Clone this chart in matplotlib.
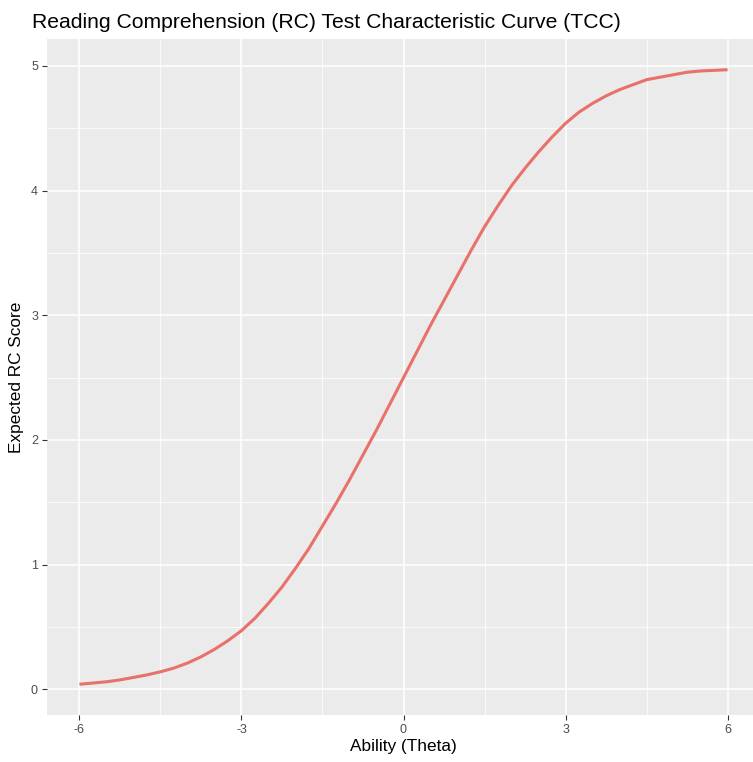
import matplotlib
matplotlib.use("Agg")
import matplotlib.pyplot as plt
from matplotlib.ticker import FixedLocator

plt.rcParams['font.family'] = ['Liberation Sans', 'DejaVu Sans']

theta = [-6.0, -5.75, -5.5, -5.25, -5.0, -4.75, -4.5, -4.25, -4.0, -3.75, -3.5, -3.25,
         -3.0, -2.75, -2.5, -2.25, -2.0, -1.75, -1.5, -1.25, -1.0, -0.75, -0.5, -0.25,
         0.0, 0.25, 0.5, 0.75, 1.0, 1.25, 1.5, 1.75, 2.0, 2.25, 2.5, 2.75,
         3.0, 3.25, 3.5, 3.75, 4.0, 4.25, 4.5, 4.75, 5.0, 5.25, 5.5, 5.75, 6.0]
expected_score = [0.04, 0.05, 0.06, 0.075, 0.095, 0.115, 0.14, 0.17, 0.21, 0.26, 0.32, 0.39,
                  0.47, 0.57, 0.69, 0.82, 0.97, 1.13, 1.31, 1.49, 1.68, 1.88, 2.08, 2.29,
                  2.50, 2.71, 2.92, 3.12, 3.32, 3.52, 3.71, 3.88, 4.04, 4.18, 4.31, 4.43,
                  4.54, 4.63, 4.70, 4.76, 4.81, 4.85, 4.89, 4.91, 4.93, 4.95, 4.96, 4.965, 4.97]
x_ticks = [-6, -3, 0, 3, 6]
y_ticks = [0, 1, 2, 3, 4, 5]

W, H = 753, 762
fig = plt.figure(figsize=(W / 100, H / 100), dpi=100)
left, right, top, bottom = 47, 760, 39, 715
ax = fig.add_axes([left / W, 1 - bottom / H, (right - left) / W, (bottom - top) / H])
ax.set_facecolor('#EBEBEB')
for s in ax.spines.values():
    s.set_visible(False)

ax.plot(theta, expected_score, color='#E8716B', lw=2.2, solid_capstyle='butt', zorder=3)

ax.set_xlim(-6.6, 6.6)
ymin, ymax = min(expected_score), max(expected_score)
pad = (ymax - ymin) * 0.05
ax.set_ylim(ymin - pad, ymax + pad)

ax.xaxis.set_major_locator(FixedLocator(x_ticks))
ax.yaxis.set_major_locator(FixedLocator(y_ticks))
ax.xaxis.set_minor_locator(FixedLocator([-4.5, -1.5, 1.5, 4.5]))
ax.yaxis.set_minor_locator(FixedLocator([0.5, 1.5, 2.5, 3.5, 4.5]))
ax.set_xticklabels([str(v) for v in x_ticks])
ax.set_yticklabels([str(v) for v in y_ticks])

ax.grid(which='major', color='white', lw=1.1, zorder=0)
ax.grid(which='minor', color='white', lw=0.55, zorder=0)
ax.set_axisbelow(True)
ax.tick_params(which='major', length=3.5, width=0.8, color='#333333',
               labelsize=9, labelcolor='#4D4D4D', pad=3)
ax.tick_params(which='minor', length=0)

ax.set_xlabel('Ability (Theta)', fontsize=12.4, color='black', labelpad=2)
ax.set_ylabel('Expected RC Score', fontsize=12.4, color='black', labelpad=5)

fig.text(32 / W, 1 - 28 / H, 'Reading Comprehension (RC) Test Characteristic Curve (TCC)',
         fontsize=15.2, color='black', ha='left', va='baseline')

fig.savefig('out.png', dpi=100)
